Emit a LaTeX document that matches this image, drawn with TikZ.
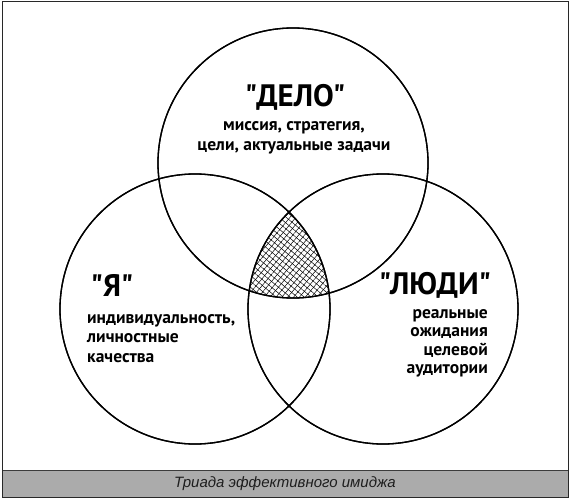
\documentclass[tikz,border=0pt]{standalone}
\usepackage{fontspec}
\setmainfont{PT Sans}
\newfontfamily\hand{PT Sans}
\newfontfamily\capfont{Liberation Sans}
\usetikzlibrary{patterns.meta}
\begin{document}
\begin{tikzpicture}[x=1pt,y=-1pt,
  ring/.style={circle,draw=black,line width=1.3pt,minimum size=270pt,inner sep=0pt},
  headtxt/.style={font=\hand\bfseries\fontsize{31}{33}\selectfont,inner sep=0pt},
  bodytxt/.style={font=\hand\bfseries\fontsize{17.5}{19.5}\selectfont,inner sep=0pt}]
\useasboundingbox (0,0) rectangle (570,500);
\fill[white] (0,0) rectangle (570,500);
% circles (positions)
\node[ring] (delo) at (293,163) {};
\node[ring] (ya) at (195,309) {};
\node[ring] (lyudi) at (383,309) {};
% hatched common region
\begin{scope}
  \clip (delo.center) circle (135pt);
  \clip (ya.center) circle (135pt);
  \fill[pattern={Lines[angle=50,distance=4.5pt,line width=0.5pt]},pattern color=black] (lyudi.center) circle (135pt);
  \fill[pattern={Lines[angle=-40,distance=4.5pt,line width=0.5pt]},pattern color=black] (lyudi.center) circle (135pt);
\end{scope}
\draw[line width=1.3pt] (delo.center) circle (135pt);
\draw[line width=1.3pt] (ya.center) circle (135pt);
\draw[line width=1.3pt] (lyudi.center) circle (135pt);
% texts
\node[headtxt] (t1) at (295,97) {"ДЕЛО"};
\node[bodytxt,align=center,anchor=north,font=\hand\bfseries\fontsize{17.5}{20.5}\selectfont] (t1b) at (294,121) {миссия, стратегия,\\цели, актуальные задачи};
\node[headtxt] (t2) at (112,285) {"Я"};
\node[bodytxt,align=left,anchor=north west] (t2b) at (87,314) {индивидуальность,\\личностные\\качества};
\node[headtxt] (t3) at (435,285) {"ЛЮДИ"};
\node[bodytxt,align=right,anchor=north east,font=\hand\bfseries\fontsize{17.5}{18.5}\selectfont] (t3b) at (488,309) {реальные\\ожидания\\целевой\\аудитории};
% caption band
\fill[fill={rgb,255:red,171;green,171;blue,171}] (2,470) rectangle (568,497);
\draw[line width=1pt,draw={rgb,255:red,60;green,60;blue,60}] (2,470) -- (568,470);
\node[font=\capfont\itshape\fontsize{15}{17}\selectfont,text={rgb,255:red,30;green,30;blue,30}] (cap) at (285,483.5) {Триада эффективного имиджа};
\draw[line width=1pt,draw={rgb,255:red,40;green,40;blue,40}] (2,2) rectangle (568,497);
\end{tikzpicture}
\end{document}
